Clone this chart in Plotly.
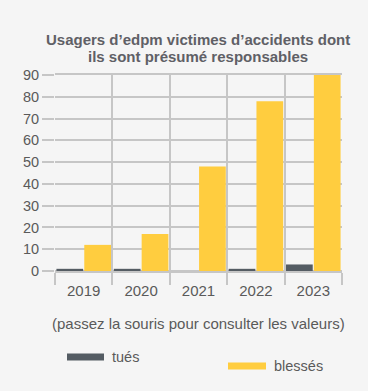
import plotly.graph_objects as go

years = ["2019", "2020", "2021", "2022", "2023"]
tues = [1, 1, 0, 1, 3]
blesses = [12, 17, 48, 78, 90]
series_names = ["tués", "blessés"]
colors = ["#545c63", "#ffcd3f"]
y_ticks = [0, 10, 20, 30, 40, 50, 60, 70, 80, 90]
title_lines = ["Usagers d’edpm victimes d’accidents dont", "ils sont présumé responsables"]

W, H = 368, 391
L, R, T, B = 55, 26, 75, 120
pw, ph = W - L - R, H - T - B

def px(x):
    return (x - L) / pw

def py(y):
    return (H - B - y) / ph

FONT = "Liberation Sans, Arial, sans-serif"
GRID = "#c6c6c6"

fig = go.Figure()
for name, vals, col in zip(series_names, [tues, blesses], colors):
    fig.add_trace(go.Bar(
        x=years, y=vals, name=name, marker=dict(color=col, line=dict(width=0)),
        showlegend=False, hovertemplate="%{x}: %{y}<extra>" + name + "</extra>"))

fig.update_layout(
    width=W, height=H,
    margin=dict(l=L, r=R, t=T, b=B),
    paper_bgcolor="#f5f5f5", plot_bgcolor="#f5f5f5",
    barmode="group", bargap=0.03, bargroupgap=0.04,
    font=dict(family=FONT, color="#5a5a5a"),
    xaxis=dict(type="category", tickson="boundaries", showgrid=True, gridcolor=GRID, gridwidth=1.5,
               ticks="outside", ticklen=12, tickcolor=GRID, tickwidth=1.5, ticklabelstandoff=5,
               showline=True, linecolor=GRID, linewidth=1.5, mirror=True,
               tickfont=dict(size=15, color="#5a5a5a"), zeroline=False),
    yaxis=dict(range=[0, 90], tickvals=y_ticks, showgrid=True, gridcolor=GRID, gridwidth=1.5,
               ticks="outside", ticklen=12, tickcolor=GRID, tickwidth=1.5,
               showline=False, zeroline=True, zerolinecolor=GRID, zerolinewidth=1.5,
               tickfont=dict(size=14.5, color="#5a5a5a")),
)

annotations = []
for line, yc in zip(title_lines, [40, 56]):
    annotations.append(dict(text="<b>" + line + "</b>", x=px(197.5), y=py(yc), xref="paper", yref="paper",
                            showarrow=False, xanchor="center", yanchor="middle",
                            font=dict(size=15, color="#5f6066", family=FONT)))
annotations.append(dict(text="(passez la souris pour consulter les valeurs)", x=px(198.5), y=py(323),
                        xref="paper", yref="paper", showarrow=False, xanchor="center", yanchor="middle",
                        font=dict(size=15, color="#5a5a5a", family=FONT)))
shapes = []
legend_items = [(67, 104, 357), (228, 266, 366)]
for (x0, x1, yc), name, col in zip(legend_items, series_names, colors):
    shapes.append(dict(type="rect", xref="paper", yref="paper", x0=px(x0), x1=px(x1),
                       y0=py(yc + 3.5), y1=py(yc - 3.5), fillcolor=col, line=dict(width=0)))
    annotations.append(dict(text=name, x=px(x1 + 6), y=py(yc), xref="paper", yref="paper",
                            showarrow=False, xanchor="left", yanchor="middle",
                            font=dict(size=14.5, color="#5a5a5a", family=FONT)))
fig.update_layout(annotations=annotations, shapes=shapes)

fig.write_html("out.html", config={"displayModeBar": False},
               post_script="document.body.style.margin='0';document.body.style.overflow='hidden';"
                           "document.body.style.background='#f5f5f5';")
